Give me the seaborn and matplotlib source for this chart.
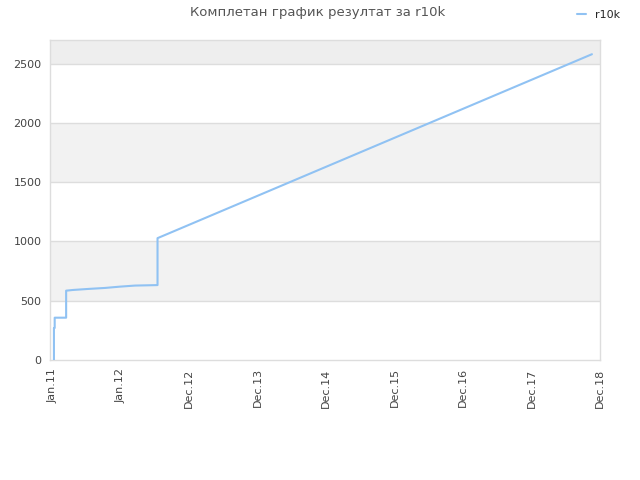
#!/usr/bin/env python3

import numpy as np
import matplotlib as mpl
from matplotlib import pyplot as plt
import seaborn as sns
import pandas as pd

sns.set_theme(style="white")
plt.rcParams['font.family'] = ['DejaVu Sans']

# days since start (x axis is evenly spaced by label, 365 units per tick)
days = [10, 10, 14, 14, 75, 75, 112, 197, 282, 362, 442, 562, 562, 2877]
results = [0, 270, 270, 357, 357, 585, 591, 600, 608, 619, 628, 632, 1028, 2580]
tick_labels = ["Jan.11", "Jan.12", "Dec.12", "Dec.13", "Dec.14",
               "Dec.15", "Dec.16", "Dec.17", "Dec.18"]
series_name = "r10k"

df = pd.DataFrame({'day': days, 'result': results})

fig = plt.figure(figsize=(6.4, 4.8), dpi=100)
ax = fig.add_axes([50/640, 1 - 360/480, 550/640, 320/480])

# alternating background bands
for lo in range(0, 2500, 500):
    ax.axhspan(lo, lo + 500, color='#f2f2f2' if (lo // 500) % 2 else 'white', zorder=0, lw=0)
ax.axhspan(2500, 2700, color='#eeeeee', zorder=0, lw=0)
for yv in range(500, 2501, 500):
    ax.axhline(yv, color='#dddddd', lw=1, zorder=1)

g = sns.lineplot(data=df, x='day', y='result', estimator=None, sort=False,
                 color='#90c2f3', lw=1.5, ax=ax, label=series_name, zorder=3)
g.legend_.remove()

ax.set_xlim(-11, 2920)
ax.set_ylim(0, 2700)
ax.set_xticks([i * 365 for i in range(len(tick_labels))])
ax.set_xticklabels(tick_labels, rotation=90, fontsize=8, color='#444444')
ax.set_yticks(range(0, 2501, 500))
ax.set_yticklabels([str(v) for v in range(0, 2501, 500)], fontsize=8, color='#444444')
ax.tick_params(length=0, pad=6)
ax.set_xlabel('')
ax.set_ylabel('')
for s in ax.spines.values():
    s.set_color('#dddddd')
    s.set_linewidth(1)

fig.text(0.497, 0.974, "Комплетан график резултат за r10k", ha='center', va='center',
         fontsize=9.5, color='#555555')
handle = mpl.lines.Line2D([], [], color='#90c2f3', lw=1.5)
fig.legend([handle], [series_name], loc='upper right', bbox_to_anchor=(0.985, 1.0),
           frameon=False, handlelength=0.8, handletextpad=0.8, fontsize=8)

fig.savefig('out.png', dpi=100)
